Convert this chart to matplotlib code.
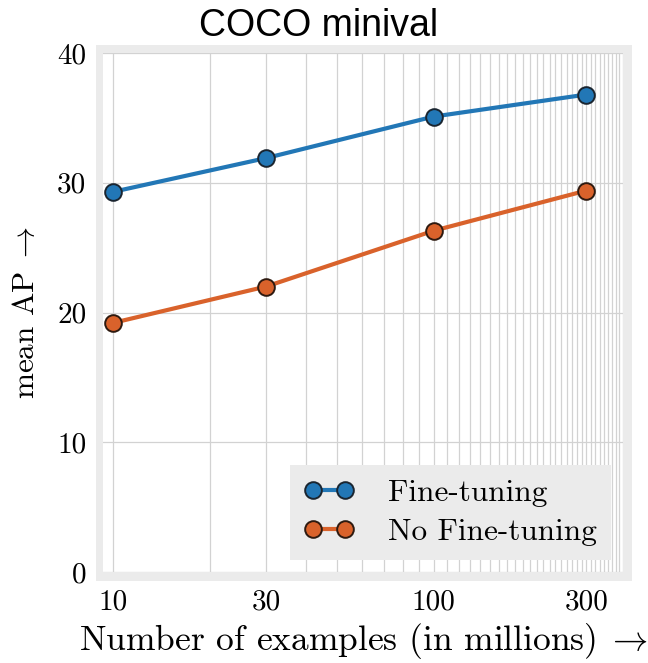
import matplotlib
matplotlib.use("Agg")
import matplotlib.pyplot as plt
from matplotlib.patches import Rectangle
from matplotlib.ticker import FixedLocator, FixedFormatter, MultipleLocator, NullFormatter

EXAMPLES = [10, 30, 100, 300]
FINE_TUNING = [29.3, 31.9, 35.1, 36.8]
NO_FINE_TUNING = [19.2, 22.0, 26.3, 29.4]
X_TICKS = [10, 30, 100, 300]
Y_TICKS = [0, 10, 20, 30, 40]

BLUE = "#2277b6"
ORANGE = "#d9622b"
FONT_SIZE = 22

plt.rcParams.update({
    "font.family": "serif",
    "font.serif": ["cmr10", "DejaVu Serif"],
    "mathtext.fontset": "cm",
    "axes.formatter.use_mathtext": True,
    "font.size": FONT_SIZE,
})

fig = plt.figure(figsize=(6.48, 6.63), dpi=100)
W, H = 648, 663

# light gray frame behind the white plot area
fig.add_artist(Rectangle((96 / W, 1 - 581 / H), 536 / W, 536 / H,
                         transform=fig.transFigure, facecolor="#ebebeb",
                         edgecolor="none", zorder=-1))

ax = fig.add_axes([103 / W, 1 - 572 / H, 520 / W, 519 / H])
ax.set_facecolor("white")
for spine in ax.spines.values():
    spine.set_visible(False)

ax.set_xscale("log")
ax.set_xlim(9.3, 390)
ax.set_ylim(0, 40)

ax.xaxis.set_major_locator(FixedLocator(X_TICKS))
ax.xaxis.set_major_formatter(FixedFormatter([str(t) for t in X_TICKS]))
ax.xaxis.set_minor_locator(MultipleLocator(10))
ax.xaxis.set_minor_formatter(NullFormatter())
ax.yaxis.set_major_locator(FixedLocator(Y_TICKS))
ax.yaxis.set_major_formatter(FixedFormatter([str(t) for t in Y_TICKS]))

ax.grid(True, which="both", axis="x", color="#d2d2d2", linewidth=0.9)
ax.grid(True, which="major", axis="y", color="#d2d2d2", linewidth=0.9)
ax.set_axisbelow(True)
ax.tick_params(which="both", length=0)
ax.tick_params(axis="y", pad=12, labelsize=21)
ax.tick_params(axis="x", pad=12, labelsize=21)

ax.plot(EXAMPLES, FINE_TUNING, color=BLUE, linewidth=3.0, marker="o",
        markersize=12, markerfacecolor=BLUE, markeredgecolor="#1a2530",
        markeredgewidth=1.4, label="Fine-tuning", clip_on=False)
ax.plot(EXAMPLES, NO_FINE_TUNING, color=ORANGE, linewidth=3.0, marker="o",
        markersize=12, markerfacecolor=ORANGE, markeredgecolor="#2e1a10",
        markeredgewidth=1.4, label="No Fine-tuning", clip_on=False)

ax.set_xlabel(r"Number of examples (in millions)$\;\rightarrow$", fontsize=25.5, labelpad=4)
ax.set_ylabel(r"mean AP$\;\rightarrow$", fontsize=22.5, labelpad=12)
fig.text(319 / W, 1 - 26 / H, "COCO minival", fontfamily="Liberation Sans",
         fontsize=27, ha="center", va="center")

leg = ax.legend(loc="lower right", numpoints=2, handlelength=1.6,
                handletextpad=1.1, borderpad=0.45, labelspacing=0.38,
                borderaxespad=0.37, fancybox=False, frameon=True,
                fontsize=22.5)
leg.get_frame().set_facecolor("#ebebeb")
leg.get_frame().set_edgecolor("none")
leg.get_frame().set_alpha(1)

fig.savefig("out.png", dpi=100)
